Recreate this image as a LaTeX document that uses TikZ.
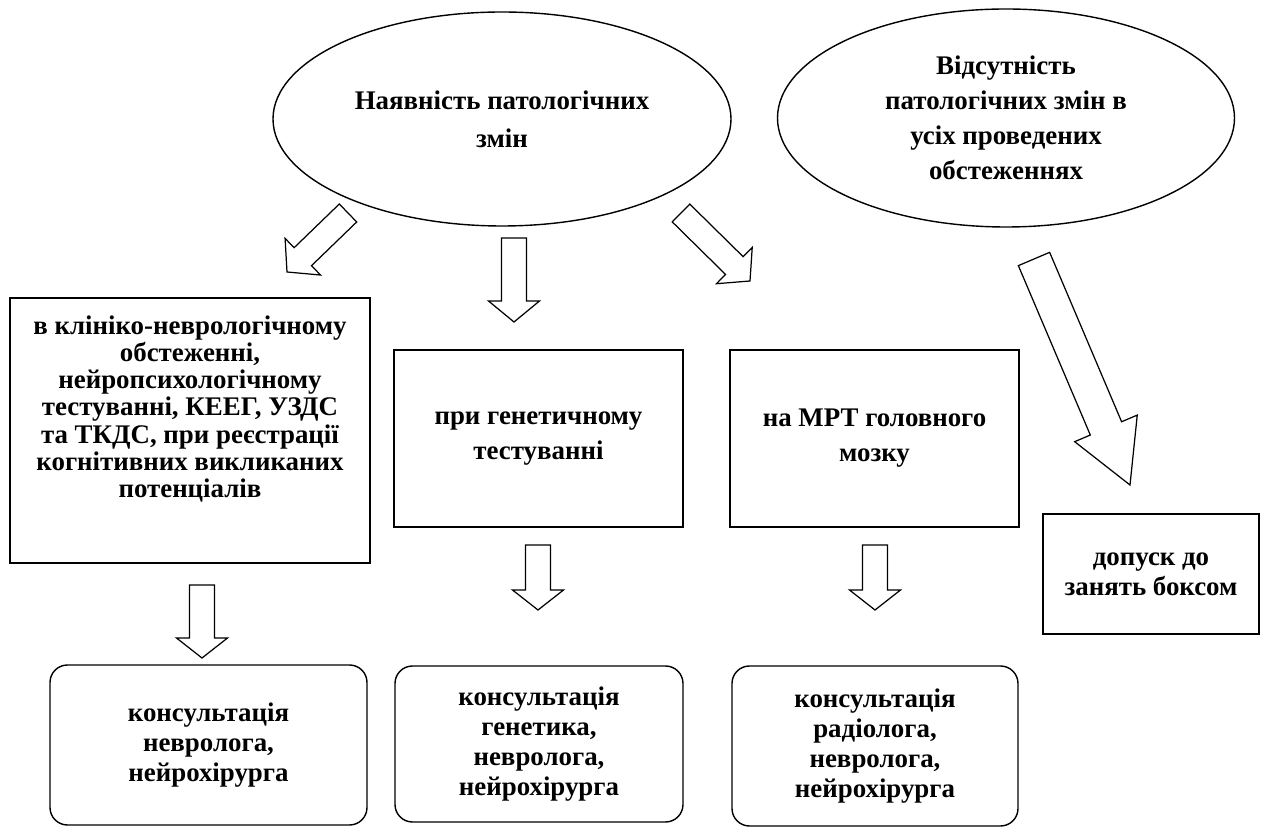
\documentclass[tikz,border=0pt]{standalone}
\usepackage{fontspec}
\setmainfont{Liberation Serif}
\usetikzlibrary{shapes.geometric, calc}

\tikzset{
  oval/.style={ellipse, draw=black, line width=0.8pt, inner sep=0pt, align=center, font=\bfseries\fontsize{15.3}{20}\selectfont},
  rect/.style={rectangle, draw=black, line width=0.8pt, inner sep=0pt, align=center, font=\bfseries\fontsize{15.3}{17.2}\selectfont},
  rrect/.style={rect, rounded corners=0.35cm},
  fat/.style={draw=black, line width=0.7pt, fill=white, line join=miter}
}

% block arrow: from, to, shaft half width, head half width, head length
\newcommand{\fatarrow}[5]{%
  \coordinate (fah) at ($(#2)!#5!(#1)$);
  \draw[fat] ($(#1)!#3!90:(#2)$) -- ($(fah)!#3!90:(#2)$) -- ($(fah)!#4!90:(#2)$) -- (#2)
    -- ($(fah)!#4!-90:(#2)$) -- ($(fah)!#3!-90:(#2)$) -- ($(#1)!#3!-90:(#2)$) -- cycle;}

\begin{document}
\begin{tikzpicture}
\useasboundingbox (0,0) rectangle (25.34,16.54);
\node[oval, minimum width=9.16cm, minimum height=4.28cm, font=\bfseries\fontsize{15.3}{21.5}\selectfont] (nayav) at (10.04, 14.16) {Наявність патологічних\\змін};
\node[oval, minimum width=9.14cm, minimum height=4.36cm] (vidsut) at (20.12, 14.18) {Відсутність\\патологічних змін в\\усіх проведених\\обстеженнях};
\node[rect, minimum width=7.20cm, minimum height=5.30cm] (klin) at (3.80, 7.93) {};
\node[align=center, font=\bfseries\fontsize{15.3}{15.4}\selectfont] (klintext) at (3.80, 8.36) {в клініко-неврологічному\\обстеженні,\\нейропсихологічному\\тестуванні, КЕЕГ, УЗДС\\та ТКДС, при реєстрації\\когнітивних викликаних\\потенціалів};
\node[rect, minimum width=5.78cm, minimum height=3.54cm, font=\bfseries\fontsize{15.3}{20}\selectfont] (genet) at (10.77, 7.77) {при генетичному\\тестуванні};
\node[rect, minimum width=5.78cm, minimum height=3.54cm, font=\bfseries\fontsize{15.3}{20}\selectfont] (mrt) at (17.49, 7.77) {на МРТ головного\\мозку};
\node[rect, minimum width=4.32cm, minimum height=2.40cm] (dopusk) at (23.02, 5.06) {допуск до\\занять боксом};
\node[rrect, minimum width=6.34cm, minimum height=3.20cm] (kons1) at (4.17, 1.64) {консультація\\невролога,\\нейрохірурга};
\node[rrect, minimum width=5.76cm, minimum height=3.12cm] (kons2) at (10.78, 1.66) {консультація\\генетика,\\невролога,\\нейрохірурга};
\node[rrect, minimum width=5.72cm, minimum height=3.20cm] (kons3) at (17.50, 1.62) {консультація\\радіолога,\\невролога,\\нейрохірурга};
\coordinate (a1s) at (6.96, 12.28);
\coordinate (a1e) at (5.74, 11.10);
\coordinate (a2s) at (10.28, 11.78);
\coordinate (a2e) at (10.28, 10.10);
\coordinate (a3s) at (13.62, 12.28);
\coordinate (a3e) at (15.00, 10.92);
\coordinate (a4s) at (20.68, 11.36);
\coordinate (a4e) at (22.60, 6.84);
\coordinate (a5s) at (4.04, 4.84);
\coordinate (a5e) at (4.04, 3.38);
\coordinate (a6s) at (10.76, 5.64);
\coordinate (a6e) at (10.76, 4.34);
\coordinate (a7s) at (17.50, 5.64);
\coordinate (a7e) at (17.50, 4.34);
\fatarrow{a1s}{a1e}{0.25cm}{0.51cm}{0.44cm}
\fatarrow{a2s}{a2e}{0.25cm}{0.51cm}{0.42cm}
\fatarrow{a3s}{a3e}{0.25cm}{0.51cm}{0.44cm}
\fatarrow{a4s}{a4e}{0.34cm}{0.68cm}{1.23cm}
\fatarrow{a5s}{a5e}{0.25cm}{0.51cm}{0.40cm}
\fatarrow{a6s}{a6e}{0.25cm}{0.51cm}{0.40cm}
\fatarrow{a7s}{a7e}{0.25cm}{0.51cm}{0.40cm}
\end{tikzpicture}
\end{document}
